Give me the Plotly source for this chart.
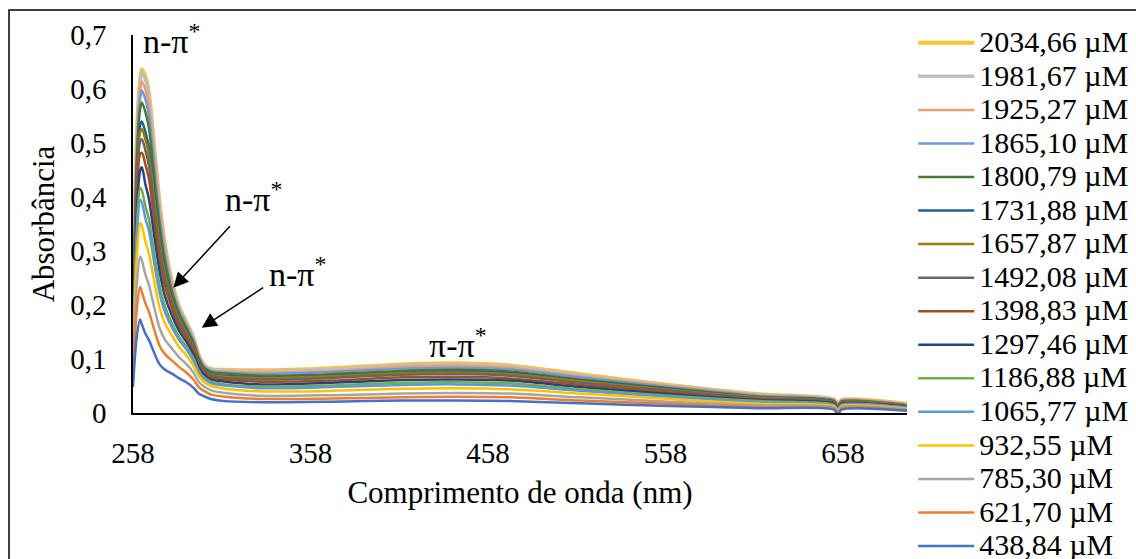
import plotly.graph_objects as go

# Wavelength grid (nm) shared by all spectra
wavelength = [258, 260, 262, 263, 265, 267, 270, 273, 276, 280, 284, 288, 292, 295, 298, 302, 310,
              330, 370, 410, 440, 470, 510, 560, 610, 653, 655, 657, 694]

# Absorbance spectra, one list per concentration
abs_2034_66 = [0.121, 0.496, 0.617, 0.636, 0.623, 0.591, 0.490, 0.388, 0.312, 0.242, 0.197, 0.169, 0.140, 0.108, 0.089, 0.081, 0.080,
               0.079, 0.083, 0.090, 0.092, 0.088, 0.072, 0.052, 0.035, 0.025, 0.015, 0.024, 0.017]
abs_1981_67 = [0.120, 0.492, 0.612, 0.631, 0.618, 0.586, 0.485, 0.384, 0.309, 0.240, 0.196, 0.168, 0.139, 0.108, 0.089, 0.081, 0.079,
               0.077, 0.081, 0.088, 0.090, 0.086, 0.070, 0.051, 0.034, 0.024, 0.014, 0.023, 0.016]
abs_1925_27 = [0.119, 0.480, 0.597, 0.614, 0.599, 0.568, 0.470, 0.373, 0.301, 0.235, 0.192, 0.165, 0.137, 0.106, 0.087, 0.079, 0.077,
               0.075, 0.078, 0.085, 0.087, 0.084, 0.068, 0.050, 0.033, 0.023, 0.013, 0.023, 0.016]
abs_1865_10 = [0.118, 0.468, 0.582, 0.597, 0.581, 0.550, 0.455, 0.361, 0.292, 0.229, 0.189, 0.162, 0.134, 0.104, 0.086, 0.078, 0.075,
               0.072, 0.076, 0.082, 0.084, 0.081, 0.066, 0.048, 0.032, 0.023, 0.013, 0.022, 0.015]
abs_1800_79 = [0.116, 0.452, 0.563, 0.575, 0.557, 0.527, 0.436, 0.346, 0.281, 0.223, 0.184, 0.158, 0.131, 0.101, 0.084, 0.076, 0.073,
               0.069, 0.072, 0.078, 0.080, 0.077, 0.062, 0.046, 0.030, 0.022, 0.012, 0.021, 0.014]
abs_1731_88 = [0.113, 0.427, 0.532, 0.540, 0.520, 0.491, 0.405, 0.323, 0.264, 0.211, 0.175, 0.152, 0.125, 0.097, 0.081, 0.072, 0.069,
               0.066, 0.069, 0.075, 0.077, 0.074, 0.060, 0.044, 0.029, 0.021, 0.011, 0.020, 0.014]
abs_1657_87 = [0.112, 0.417, 0.520, 0.526, 0.506, 0.477, 0.394, 0.314, 0.257, 0.207, 0.172, 0.149, 0.123, 0.095, 0.079, 0.071, 0.067,
               0.065, 0.068, 0.074, 0.075, 0.072, 0.059, 0.043, 0.029, 0.020, 0.010, 0.020, 0.014]
abs_1492_08 = [0.110, 0.403, 0.503, 0.507, 0.486, 0.458, 0.378, 0.301, 0.248, 0.201, 0.168, 0.145, 0.120, 0.093, 0.078, 0.069, 0.065,
               0.062, 0.065, 0.071, 0.072, 0.069, 0.056, 0.041, 0.027, 0.019, 0.009, 0.019, 0.013]
abs_1398_83 = [0.107, 0.385, 0.480, 0.482, 0.460, 0.433, 0.357, 0.285, 0.236, 0.193, 0.161, 0.140, 0.116, 0.090, 0.075, 0.066, 0.062,
               0.058, 0.060, 0.066, 0.067, 0.064, 0.052, 0.038, 0.025, 0.018, 0.008, 0.017, 0.012]
abs_1297_46 = [0.102, 0.359, 0.449, 0.455, 0.423, 0.396, 0.327, 0.262, 0.217, 0.180, 0.152, 0.132, 0.109, 0.085, 0.071, 0.062, 0.058,
               0.053, 0.056, 0.061, 0.062, 0.060, 0.048, 0.035, 0.024, 0.017, 0.007, 0.016, 0.011]
abs_1186_88 = [0.097, 0.329, 0.417, 0.412, 0.383, 0.358, 0.296, 0.236, 0.198, 0.166, 0.141, 0.123, 0.102, 0.079, 0.066, 0.058, 0.053,
               0.049, 0.051, 0.056, 0.057, 0.055, 0.044, 0.032, 0.022, 0.015, 0.005, 0.015, 0.010]
abs_1065_77 = [0.094, 0.312, 0.395, 0.390, 0.360, 0.337, 0.277, 0.222, 0.187, 0.158, 0.135, 0.118, 0.097, 0.075, 0.064, 0.055, 0.051,
               0.046, 0.048, 0.052, 0.053, 0.051, 0.041, 0.030, 0.020, 0.014, 0.004, 0.014, 0.010]
abs_932_55 = [0.086, 0.279, 0.352, 0.346, 0.317, 0.295, 0.243, 0.195, 0.166, 0.143, 0.122, 0.107, 0.088, 0.069, 0.058, 0.050, 0.045,
              0.040, 0.041, 0.045, 0.046, 0.044, 0.036, 0.026, 0.017, 0.012, 0.002, 0.012, 0.008]
abs_785_30 = [0.075, 0.231, 0.290, 0.282, 0.256, 0.237, 0.195, 0.157, 0.136, 0.119, 0.103, 0.091, 0.075, 0.058, 0.049, 0.042, 0.037,
              0.032, 0.033, 0.036, 0.037, 0.036, 0.029, 0.021, 0.014, 0.010, 0.000, 0.010, 0.007]
abs_621_70 = [0.063, 0.187, 0.234, 0.224, 0.203, 0.187, 0.154, 0.124, 0.109, 0.097, 0.085, 0.075, 0.062, 0.048, 0.041, 0.034, 0.030,
              0.026, 0.027, 0.029, 0.030, 0.029, 0.023, 0.017, 0.011, 0.008, -0.002, 0.008, 0.005]
abs_438_84 = [0.048, 0.138, 0.173, 0.164, 0.147, 0.135, 0.111, 0.090, 0.080, 0.073, 0.064, 0.057, 0.047, 0.036, 0.031, 0.026, 0.022,
              0.020, 0.021, 0.023, 0.023, 0.022, 0.018, 0.013, 0.009, 0.006, -0.005, 0.006, 0.004]

series_labels = ["2034,66 µM", "1981,67 µM", "1925,27 µM", "1865,10 µM", "1800,79 µM", "1731,88 µM",
                 "1657,87 µM", "1492,08 µM", "1398,83 µM", "1297,46 µM", "1186,88 µM", "1065,77 µM",
                 "932,55 µM", "785,30 µM", "621,70 µM", "438,84 µM"]
series_values = [abs_2034_66, abs_1981_67, abs_1925_27, abs_1865_10, abs_1800_79, abs_1731_88,
                 abs_1657_87, abs_1492_08, abs_1398_83, abs_1297_46, abs_1186_88, abs_1065_77,
                 abs_932_55, abs_785_30, abs_621_70, abs_438_84]
series_colors = ["#FEC42D", "#BFBFBF", "#F19D6A", "#6E99DB", "#4C7A2C", "#245E94",
                 "#9A7A0A", "#666666", "#A64F1E", "#26447F", "#70AD47", "#5B9BD5",
                 "#FFC000", "#A5A5A5", "#ED7D31", "#4472C4"]
series_widths = [4, 3.5, 2.5, 2.5, 2.5, 2.5, 2.5, 2.5, 2.5, 2.5, 2.5, 2.5, 2.5, 2.5, 2.5, 2.5]

x_ticks = [258, 358, 458, 558, 658]
y_ticks = [0, 0.1, 0.2, 0.3, 0.4, 0.5, 0.6, 0.7]
y_tick_text = ["0", "0,1", "0,2", "0,3", "0,4", "0,5", "0,6", "0,7"]

SERIF = "Liberation Serif, Times New Roman, serif"

fig = go.Figure()
for label, vals, color, width in zip(series_labels, series_values, series_colors, series_widths):
    fig.add_trace(go.Scatter(
        x=wavelength, y=vals, mode="lines", name=f'<span style="font-size:30px">{label}</span>',
        line=dict(color=color, width=width, shape="spline", smoothing=0.8),
    ))

# Band assignments
band_font = dict(family=SERIF, size=34, color="black")
for xt, yt in [(262.5, 0.692), (308.7, 0.400), (333.5, 0.262)]:
    fig.add_annotation(x=xt, y=yt, xref="x", yref="y", text="n-π<sup>*</sup>", showarrow=False,
                       xanchor="left", yanchor="middle", font=band_font)
fig.add_annotation(x=423.6, y=0.130, xref="x", yref="y", text="π-π<sup>*</sup>", showarrow=False,
                   xanchor="left", yanchor="middle", font=band_font)

# Arrows pointing at the shoulders
for xt, yt, ax, ay in [(280.7, 0.232, 58, -63), (296.7, 0.158, 63, -41)]:
    fig.add_annotation(x=xt, y=yt, xref="x", yref="y", text="", showarrow=True,
                       ax=ax, ay=ay, arrowhead=2, arrowsize=2, arrowwidth=1.5, arrowcolor="black")

# Frame around the chart
fig.add_shape(type="rect", xref="paper", yref="paper", x0=-0.1602, y0=-0.5, x1=1.5, y1=1.0661,
              line=dict(color="black", width=1.5), fillcolor="rgba(0,0,0,0)", layer="below")

fig.update_layout(
    width=1136, height=559,
    margin=dict(l=133, r=229, t=35, b=146, autoexpand=False),
    paper_bgcolor="white", plot_bgcolor="white",
    font=dict(family=SERIF, color="black"),
    showlegend=True,
    legend=dict(x=1.008, y=1.037, xanchor="left", yanchor="top",
                font=dict(family=SERIF, size=23.5, color="black"),
                itemwidth=56, maxheight=600, bgcolor="rgba(0,0,0,0)", borderwidth=0),
    xaxis=dict(range=[258, 694], tickvals=x_ticks, ticktext=[str(v) for v in x_ticks],
               showline=True, linecolor="black", linewidth=1.5, ticks="", showgrid=False, zeroline=False,
               tickfont=dict(family=SERIF, size=29, color="black"), ticklabelstandoff=13,
               title=dict(text="Comprimento de onda (nm)", font=dict(family=SERIF, size=31, color="black"),
                          standoff=14)),
    yaxis=dict(range=[0, 0.7], tickvals=y_ticks, ticktext=y_tick_text,
               showline=True, linecolor="black", linewidth=1.5, ticks="", showgrid=False, zeroline=False,
               tickfont=dict(family=SERIF, size=29, color="black"), ticklabelstandoff=19,
               title=dict(text="Absorbância", font=dict(family=SERIF, size=31, color="black"),
                          standoff=6)),
)

fig.write_html("out.html")
